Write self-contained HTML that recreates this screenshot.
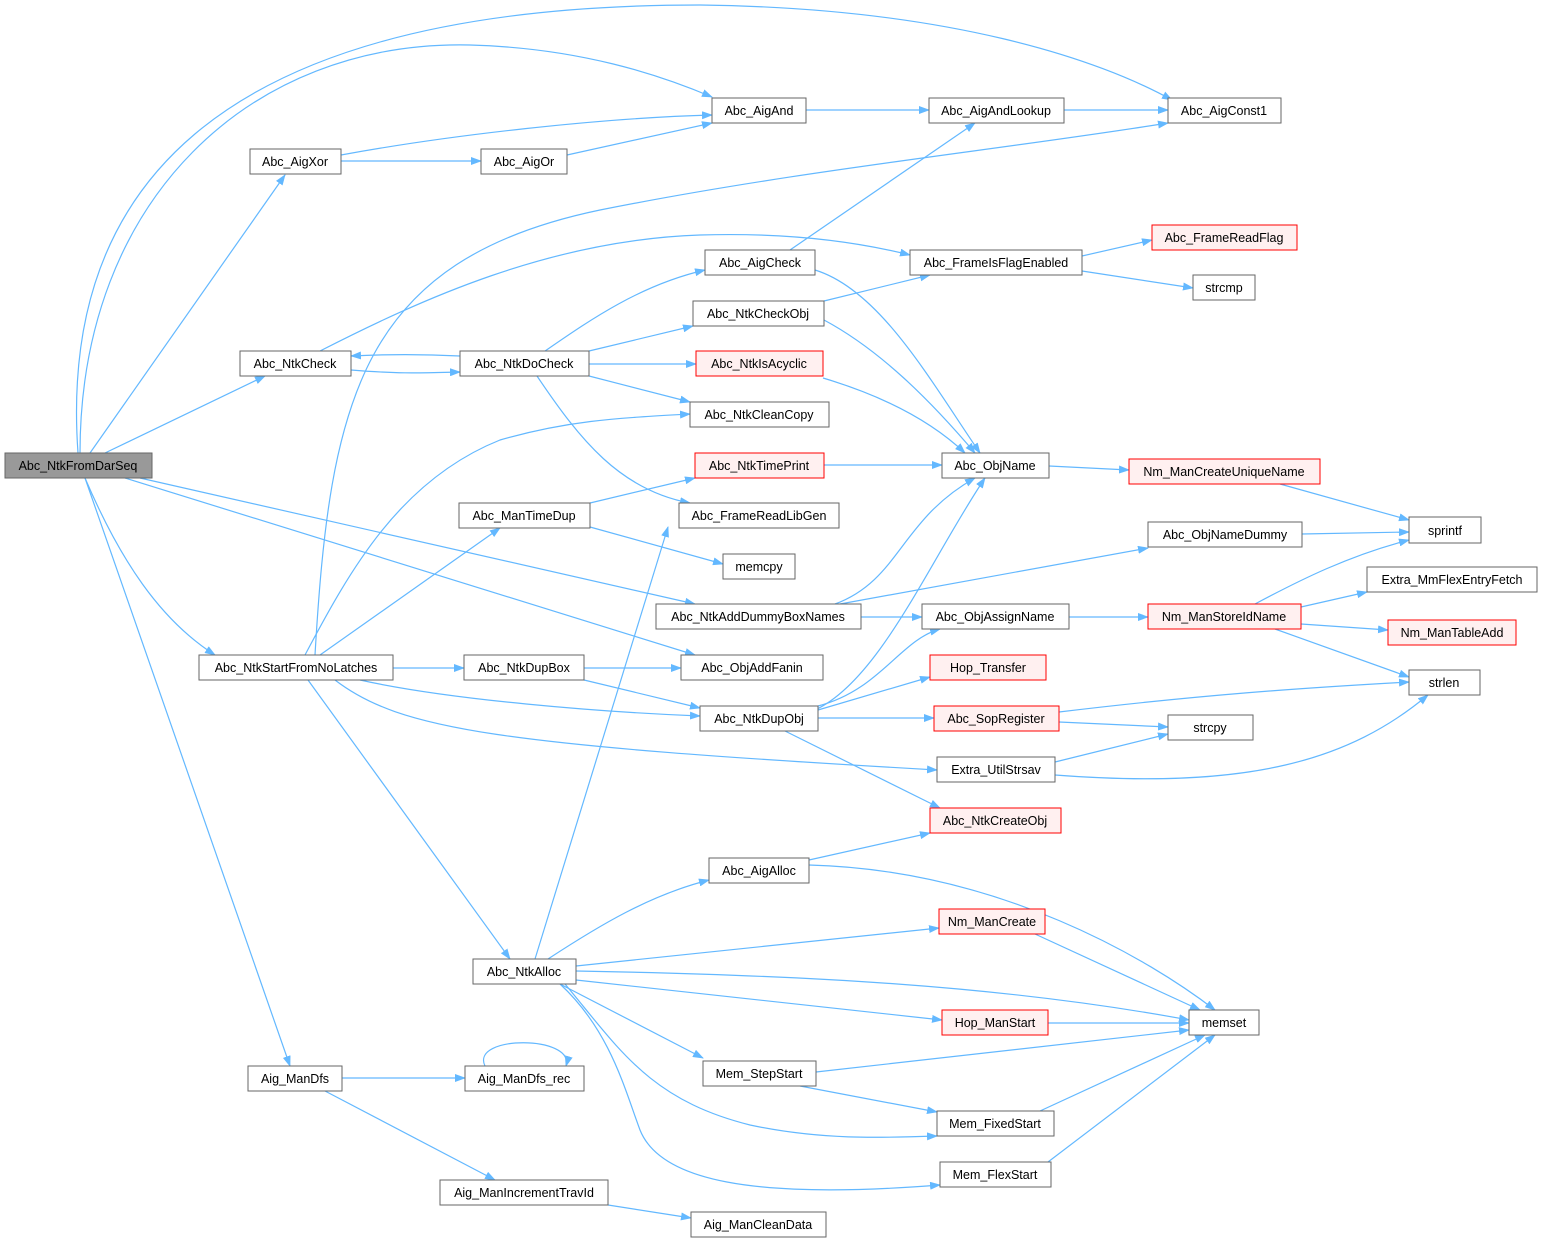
<!DOCTYPE html>
<html><head><meta charset="utf-8"><style>
html,body{margin:0;padding:0;background:#fff;}
svg{display:block;}
text{font-family:"Liberation Sans",Arial,sans-serif;font-size:12.5px;fill:#000;text-anchor:middle;}
.e{fill:none;stroke:#63b8ff;stroke-width:1.2;marker-end:url(#a);}
.n{fill:#fff;stroke:#666;stroke-width:1;}
.r{fill:#fff0f0;stroke:#ff0000;stroke-width:1;}
.g{fill:#999;stroke:#666;stroke-width:1;}
</style></head><body>
<svg width="1543" height="1244" viewBox="0 0 1543 1244" xmlns="http://www.w3.org/2000/svg">
<defs><marker id="a" markerWidth="11" markerHeight="8" refX="10" refY="4" orient="auto" markerUnits="userSpaceOnUse"><path d="M0,0 L11,4 L0,8 Z" fill="#63b8ff"/></marker></defs>
<g>
<path class="e" d="M78,453 C60,200 200,5 700,5 C950,8 1100,60 1172,100"/>
<path class="e" d="M80,453 C80,200 250,40 470,45 C580,48 660,75 712,97"/>
<path class="e" d="M90,453 L285,175"/>
<path class="e" d="M105,453 L265,376"/>
<path class="e" d="M85,478 C120,560 160,620 215,655"/>
<path class="e" d="M140,478 L695,604"/>
<path class="e" d="M125,478 L695,655"/>
<path class="e" d="M85,478 L290,1066"/>
<path class="e" d="M341,155 C450,135 600,118 712,115"/>
<path class="e" d="M341,161 L481,161"/>
<path class="e" d="M567,155 L712,123"/>
<path class="e" d="M806,110 L929,110"/>
<path class="e" d="M1064,110 L1168,110"/>
<path class="e" d="M315,655 C330,400 360,260 600,210 C800,170 1000,150 1168,123"/>
<path class="e" d="M320,351 C420,300 550,240 700,235 C800,232 870,245 910,255"/>
<path class="e" d="M351,370 C400,374 420,373 460,372"/>
<path class="e" d="M460,356 C420,354 390,354 351,356"/>
<path class="e" d="M545,351 C590,320 640,285 705,270"/>
<path class="e" d="M589,351 L693,326"/>
<path class="e" d="M589,364 L696,364"/>
<path class="e" d="M589,376 L690,402"/>
<path class="e" d="M537,376 C580,440 620,490 690,503"/>
<path class="e" d="M790,250 L975,123"/>
<path class="e" d="M815,270 C880,290 930,380 980,453"/>
<path class="e" d="M1082,256 L1152,240"/>
<path class="e" d="M1082,271 L1193,288"/>
<path class="e" d="M824,301 L930,275"/>
<path class="e" d="M824,320 C880,350 930,400 975,453"/>
<path class="e" d="M823,378 C880,395 930,420 965,453"/>
<path class="e" d="M824,465 L942,465"/>
<path class="e" d="M1049,466 L1129,470"/>
<path class="e" d="M1280,484 L1409,520"/>
<path class="e" d="M1302,534 L1409,532"/>
<path class="e" d="M1255,604 C1300,580 1350,555 1409,540"/>
<path class="e" d="M1301,607 L1367,592"/>
<path class="e" d="M1301,624 L1388,630"/>
<path class="e" d="M1275,629 L1409,677"/>
<path class="e" d="M1069,617 L1148,617"/>
<path class="e" d="M835,604 C900,580 900,520 975,478"/>
<path class="e" d="M840,604 L1148,548"/>
<path class="e" d="M861,617 L922,617"/>
<path class="e" d="M305,655 C350,570 400,480 500,440 C570,420 620,418 690,414"/>
<path class="e" d="M320,655 L500,528"/>
<path class="e" d="M393,668 L464,668"/>
<path class="e" d="M360,680 C450,700 600,712 700,716"/>
<path class="e" d="M335,680 C400,730 500,745 937,770"/>
<path class="e" d="M308,680 L510,959"/>
<path class="e" d="M590,503 L695,478"/>
<path class="e" d="M590,527 L723,564"/>
<path class="e" d="M584,668 L681,668"/>
<path class="e" d="M584,680 L700,708"/>
<path class="e" d="M815,710 C880,680 930,560 985,478"/>
<path class="e" d="M818,706 C880,690 900,640 940,629"/>
<path class="e" d="M818,710 L930,677"/>
<path class="e" d="M818,718 L934,718"/>
<path class="e" d="M785,731 L940,808"/>
<path class="e" d="M1059,712 C1200,695 1300,688 1409,682"/>
<path class="e" d="M1059,722 L1168,727"/>
<path class="e" d="M1055,762 L1168,734"/>
<path class="e" d="M1055,775 C1250,790 1350,760 1428,695"/>
<path class="e" d="M535,959 L668,527"/>
<path class="e" d="M548,959 C600,925 650,895 709,880"/>
<path class="e" d="M576,966 L939,928"/>
<path class="e" d="M576,971 C800,975 1000,985 1189,1020"/>
<path class="e" d="M576,980 L942,1020"/>
<path class="e" d="M560,984 L703,1058"/>
<path class="e" d="M565,984 C620,1050 650,1100 750,1125 C820,1140 880,1138 937,1136"/>
<path class="e" d="M560,984 C610,1030 625,1090 640,1130 C660,1180 750,1200 940,1185"/>
<path class="e" d="M809,860 L930,833"/>
<path class="e" d="M809,865 C1000,870 1150,960 1215,1010"/>
<path class="e" d="M1035,934 L1200,1010"/>
<path class="e" d="M1048,1023 L1189,1023"/>
<path class="e" d="M816,1072 L1189,1030"/>
<path class="e" d="M800,1086 L937,1112"/>
<path class="e" d="M1040,1111 L1205,1035"/>
<path class="e" d="M1048,1162 L1215,1035"/>
<path class="e" d="M342,1078 L465,1078"/>
<path class="e" d="M485,1066 C470,1035 575,1035 566,1066"/>
<path class="e" d="M325,1091 L495,1180"/>
<path class="e" d="M608,1205 L691,1218"/>
</g>
<g>
<rect class="g" x="5" y="453" width="147" height="25"/><text x="78" y="470">Abc_NtkFromDarSeq</text>
<rect class="n" x="712" y="98" width="94" height="25"/><text x="759" y="115">Abc_AigAnd</text>
<rect class="n" x="929" y="98" width="135" height="25"/><text x="996" y="115">Abc_AigAndLookup</text>
<rect class="n" x="1168" y="98" width="113" height="25"/><text x="1224" y="115">Abc_AigConst1</text>
<rect class="n" x="250" y="149" width="91" height="25"/><text x="295" y="166">Abc_AigXor</text>
<rect class="n" x="481" y="149" width="86" height="25"/><text x="524" y="166">Abc_AigOr</text>
<rect class="r" x="1152" y="225" width="145" height="25"/><text x="1224" y="242">Abc_FrameReadFlag</text>
<rect class="n" x="705" y="250" width="110" height="25"/><text x="760" y="267">Abc_AigCheck</text>
<rect class="n" x="910" y="250" width="172" height="25"/><text x="996" y="267">Abc_FrameIsFlagEnabled</text>
<rect class="n" x="1193" y="275" width="62" height="25"/><text x="1224" y="292">strcmp</text>
<rect class="n" x="693" y="301" width="131" height="25"/><text x="758" y="318">Abc_NtkCheckObj</text>
<rect class="n" x="240" y="351" width="111" height="25"/><text x="295" y="368">Abc_NtkCheck</text>
<rect class="n" x="460" y="351" width="129" height="25"/><text x="524" y="368">Abc_NtkDoCheck</text>
<rect class="r" x="696" y="351" width="127" height="25"/><text x="759" y="368">Abc_NtkIsAcyclic</text>
<rect class="n" x="690" y="402" width="139" height="25"/><text x="759" y="419">Abc_NtkCleanCopy</text>
<rect class="r" x="695" y="453" width="129" height="25"/><text x="759" y="470">Abc_NtkTimePrint</text>
<rect class="n" x="942" y="453" width="107" height="25"/><text x="995" y="470">Abc_ObjName</text>
<rect class="r" x="1129" y="459" width="191" height="25"/><text x="1224" y="476">Nm_ManCreateUniqueName</text>
<rect class="n" x="459" y="503" width="131" height="25"/><text x="524" y="520">Abc_ManTimeDup</text>
<rect class="n" x="679" y="503" width="160" height="25"/><text x="759" y="520">Abc_FrameReadLibGen</text>
<rect class="n" x="1409" y="517" width="72" height="26"/><text x="1445" y="535">sprintf</text>
<rect class="n" x="1148" y="522" width="154" height="25"/><text x="1225" y="539">Abc_ObjNameDummy</text>
<rect class="n" x="723" y="554" width="72" height="25"/><text x="759" y="571">memcpy</text>
<rect class="n" x="1367" y="567" width="170" height="25"/><text x="1452" y="584">Extra_MmFlexEntryFetch</text>
<rect class="n" x="656" y="604" width="205" height="25"/><text x="758" y="621">Abc_NtkAddDummyBoxNames</text>
<rect class="n" x="922" y="604" width="147" height="25"/><text x="995" y="621">Abc_ObjAssignName</text>
<rect class="r" x="1148" y="604" width="153" height="25"/><text x="1224" y="621">Nm_ManStoreIdName</text>
<rect class="r" x="1388" y="620" width="128" height="25"/><text x="1452" y="637">Nm_ManTableAdd</text>
<rect class="n" x="199" y="655" width="194" height="25"/><text x="296" y="672">Abc_NtkStartFromNoLatches</text>
<rect class="n" x="464" y="655" width="120" height="25"/><text x="524" y="672">Abc_NtkDupBox</text>
<rect class="n" x="681" y="655" width="142" height="25"/><text x="752" y="672">Abc_ObjAddFanin</text>
<rect class="r" x="930" y="655" width="116" height="25"/><text x="988" y="672">Hop_Transfer</text>
<rect class="n" x="1409" y="670" width="71" height="25"/><text x="1444" y="687">strlen</text>
<rect class="n" x="700" y="706" width="118" height="25"/><text x="759" y="723">Abc_NtkDupObj</text>
<rect class="r" x="934" y="706" width="125" height="25"/><text x="996" y="723">Abc_SopRegister</text>
<rect class="n" x="1168" y="715" width="85" height="25"/><text x="1210" y="732">strcpy</text>
<rect class="n" x="937" y="757" width="118" height="25"/><text x="996" y="774">Extra_UtilStrsav</text>
<rect class="r" x="930" y="808" width="131" height="25"/><text x="995" y="825">Abc_NtkCreateObj</text>
<rect class="n" x="709" y="858" width="100" height="25"/><text x="759" y="875">Abc_AigAlloc</text>
<rect class="r" x="939" y="909" width="106" height="25"/><text x="992" y="926">Nm_ManCreate</text>
<rect class="n" x="473" y="959" width="103" height="25"/><text x="524" y="976">Abc_NtkAlloc</text>
<rect class="r" x="942" y="1010" width="106" height="25"/><text x="995" y="1027">Hop_ManStart</text>
<rect class="n" x="1189" y="1010" width="70" height="25"/><text x="1224" y="1027">memset</text>
<rect class="n" x="248" y="1066" width="94" height="25"/><text x="295" y="1083">Aig_ManDfs</text>
<rect class="n" x="465" y="1066" width="119" height="25"/><text x="524" y="1083">Aig_ManDfs_rec</text>
<rect class="n" x="703" y="1061" width="113" height="25"/><text x="759" y="1078">Mem_StepStart</text>
<rect class="n" x="937" y="1111" width="117" height="25"/><text x="995" y="1128">Mem_FixedStart</text>
<rect class="n" x="940" y="1162" width="111" height="25"/><text x="995" y="1179">Mem_FlexStart</text>
<rect class="n" x="440" y="1180" width="168" height="25"/><text x="524" y="1197">Aig_ManIncrementTravId</text>
<rect class="n" x="691" y="1212" width="135" height="25"/><text x="758" y="1229">Aig_ManCleanData</text>
</g>
</svg>
</body></html>
